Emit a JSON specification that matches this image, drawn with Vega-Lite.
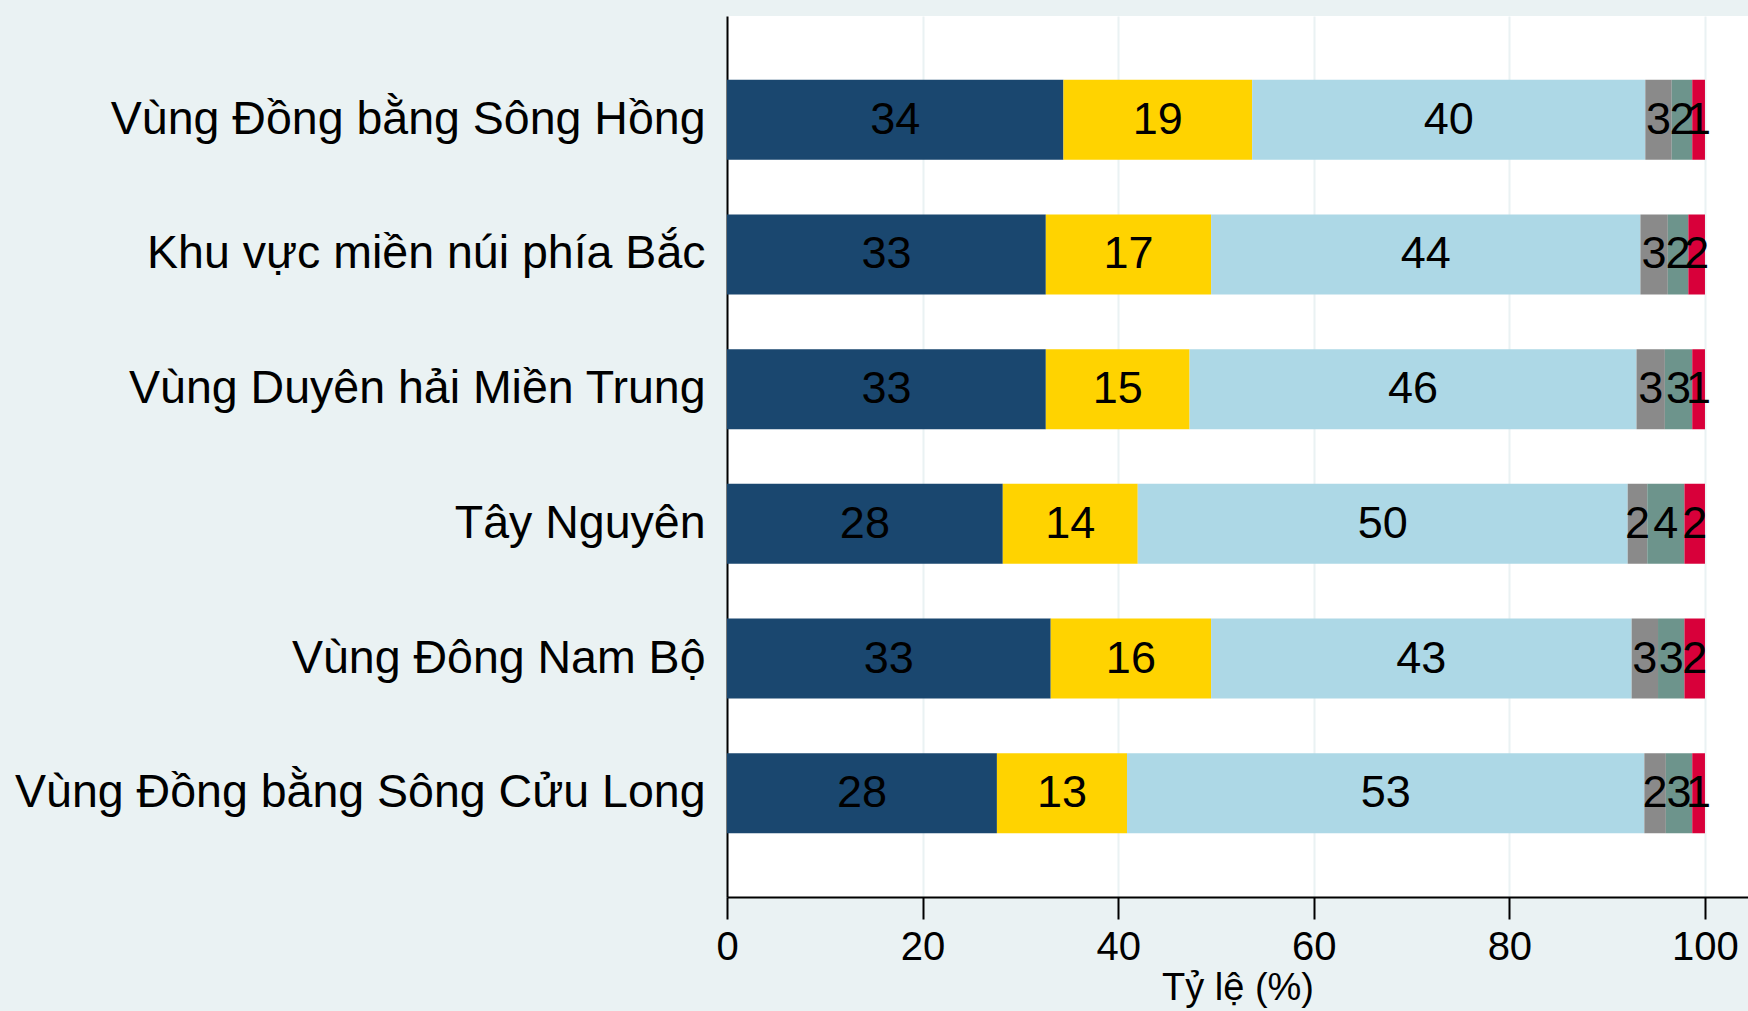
{
  "$schema": "https://vega.github.io/schema/vega-lite/v6.json",
  "width": 1021,
  "height": 881,
  "autosize": {"type": "none"},
  "padding": {"left": 727, "top": 16, "right": 0, "bottom": 114},
  "background": "#EAF2F3",
  "view": {"fill": "white", "stroke": null},
  "data": {
    "values": [
      {"region": "Vùng Đồng bằng Sông Hồng", "cat": "A", "order": 1, "value": 34.4},
      {"region": "Vùng Đồng bằng Sông Hồng", "cat": "B", "order": 2, "value": 19.3},
      {"region": "Vùng Đồng bằng Sông Hồng", "cat": "C", "order": 3, "value": 40.2},
      {"region": "Vùng Đồng bằng Sông Hồng", "cat": "D", "order": 4, "value": 2.7},
      {"region": "Vùng Đồng bằng Sông Hồng", "cat": "E", "order": 5, "value": 2.1},
      {"region": "Vùng Đồng bằng Sông Hồng", "cat": "F", "order": 6, "value": 1.3},
      {"region": "Khu vực miền núi phía Bắc", "cat": "A", "order": 1, "value": 32.6},
      {"region": "Khu vực miền núi phía Bắc", "cat": "B", "order": 2, "value": 16.9},
      {"region": "Khu vực miền núi phía Bắc", "cat": "C", "order": 3, "value": 43.9},
      {"region": "Khu vực miền núi phía Bắc", "cat": "D", "order": 4, "value": 2.8},
      {"region": "Khu vực miền núi phía Bắc", "cat": "E", "order": 5, "value": 2.1},
      {"region": "Khu vực miền núi phía Bắc", "cat": "F", "order": 6, "value": 1.7},
      {"region": "Vùng Duyên hải Miền Trung", "cat": "A", "order": 1, "value": 32.6},
      {"region": "Vùng Duyên hải Miền Trung", "cat": "B", "order": 2, "value": 14.7},
      {"region": "Vùng Duyên hải Miền Trung", "cat": "C", "order": 3, "value": 45.7},
      {"region": "Vùng Duyên hải Miền Trung", "cat": "D", "order": 4, "value": 2.9},
      {"region": "Vùng Duyên hải Miền Trung", "cat": "E", "order": 5, "value": 2.8},
      {"region": "Vùng Duyên hải Miền Trung", "cat": "F", "order": 6, "value": 1.3},
      {"region": "Tây Nguyên", "cat": "A", "order": 1, "value": 28.2},
      {"region": "Tây Nguyên", "cat": "B", "order": 2, "value": 13.8},
      {"region": "Tây Nguyên", "cat": "C", "order": 3, "value": 50.1},
      {"region": "Tây Nguyên", "cat": "D", "order": 4, "value": 2.0},
      {"region": "Tây Nguyên", "cat": "E", "order": 5, "value": 3.8},
      {"region": "Tây Nguyên", "cat": "F", "order": 6, "value": 2.1},
      {"region": "Vùng Đông Nam Bộ", "cat": "A", "order": 1, "value": 33.1},
      {"region": "Vùng Đông Nam Bộ", "cat": "B", "order": 2, "value": 16.4},
      {"region": "Vùng Đông Nam Bộ", "cat": "C", "order": 3, "value": 43.0},
      {"region": "Vùng Đông Nam Bộ", "cat": "D", "order": 4, "value": 2.7},
      {"region": "Vùng Đông Nam Bộ", "cat": "E", "order": 5, "value": 2.7},
      {"region": "Vùng Đông Nam Bộ", "cat": "F", "order": 6, "value": 2.1},
      {"region": "Vùng Đồng bằng Sông Cửu Long", "cat": "A", "order": 1, "value": 27.6},
      {"region": "Vùng Đồng bằng Sông Cửu Long", "cat": "B", "order": 2, "value": 13.3},
      {"region": "Vùng Đồng bằng Sông Cửu Long", "cat": "C", "order": 3, "value": 52.9},
      {"region": "Vùng Đồng bằng Sông Cửu Long", "cat": "D", "order": 4, "value": 2.2},
      {"region": "Vùng Đồng bằng Sông Cửu Long", "cat": "E", "order": 5, "value": 2.7},
      {"region": "Vùng Đồng bằng Sông Cửu Long", "cat": "F", "order": 6, "value": 1.3}
    ]
  },
  "transform": [
    {"stack": "value", "groupby": ["region"], "sort": [{"field": "order"}], "as": ["x0", "x1"]},
    {"calculate": "(datum.x0 + datum.x1) / 2", "as": "mid"}
  ],
  "encoding": {
    "y": {
      "field": "region",
      "type": "nominal",
      "sort": null,
      "scale": {"paddingInner": 0.406, "paddingOuter": 0.473},
      "axis": {
        "title": null,
        "ticks": false,
        "labelFont": "Liberation Sans",
        "labelFontSize": 46.5,
        "labelColor": "#000000",
        "labelPadding": 22,
        "labelLimit": 800,
        "domainColor": "#000000",
        "domainWidth": 2
      }
    }
  },
  "layer": [
    {
      "mark": {"type": "bar"},
      "encoding": {
        "x": {
          "field": "x0",
          "type": "quantitative",
          "scale": {"domain": [0, 104.4], "nice": false, "zero": true},
          "axis": {
            "title": "Tỷ lệ (%)",
            "values": [0, 20, 40, 60, 80, 100],
            "grid": true,
            "gridColor": "#EAF2F3",
            "gridWidth": 2,
            "domainColor": "#000000",
            "domainWidth": 2,
            "tickColor": "#000000",
            "tickWidth": 2,
            "tickSize": 22,
            "labelFont": "Liberation Sans",
            "labelFontSize": 40,
            "labelColor": "#000000",
            "labelPadding": 8,
            "labelFlush": false,
            "titleFont": "Liberation Sans",
            "titleFontSize": 38,
            "titleFontWeight": "normal",
            "titleColor": "#000000",
            "titlePadding": 2
          }
        },
        "x2": {"field": "x1"},
        "color": {
          "field": "cat",
          "type": "nominal",
          "scale": {
            "domain": ["A", "B", "C", "D", "E", "F"],
            "range": ["#1A476F", "#FFD300", "#ADD8E6", "#8A8A8A", "#6D948C", "#D8003A"]
          },
          "legend": null
        }
      }
    },
    {
      "mark": {"type": "text", "font": "Liberation Sans", "fontSize": 45, "color": "#000000", "align": "center", "baseline": "middle"},
      "encoding": {
        "x": {"field": "mid", "type": "quantitative"},
        "text": {"field": "value", "type": "quantitative", "format": ".0f"}
      }
    }
  ]
}
